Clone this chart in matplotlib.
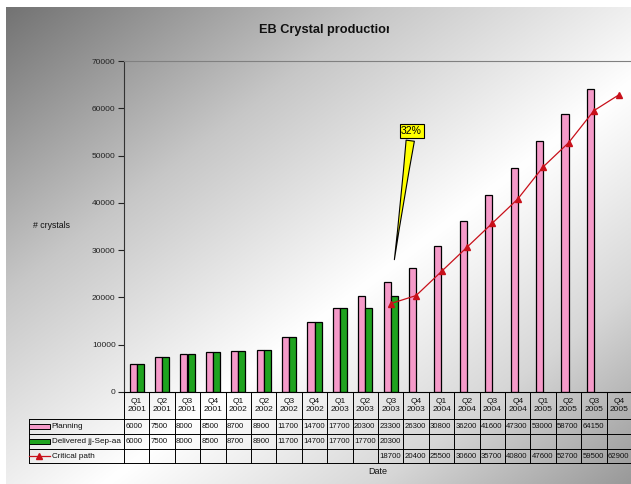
"""EB crystal production: planned vs delivered crystals per quarter, with critical path."""

import matplotlib.pyplot as plt
import numpy as np
from matplotlib.lines import Line2D
from matplotlib.patches import Rectangle
from matplotlib.transforms import Bbox, TransformedBbox, blended_transform_factory

plt.rcParams["font.family"] = ["Liberation Sans", "DejaVu Sans"]

# ---------------------------------------------------------------------------
# data
# ---------------------------------------------------------------------------
quarters = ["Q1", "Q2", "Q3", "Q4"] * 5
years = [y for y in ["2001", "2002", "2003", "2004", "2005"] for _ in range(4)]

planning = [6000, 7500, 8000, 8500, 8700, 8900, 11700, 14700, 17700, 20300,
            23300, 26300, 30800, 36200, 41600, 47300, 53000, 58700, 64150]
delivered = [6000, 7500, 8000, 8500, 8700, 8900, 11700, 14700, 17700, 17700, 20300]
critical_start = 10
critical_path = [18700, 20400, 25500, 30600, 35700, 40800, 47600, 52700, 59500, 62900]

series_names = ["Planning", "Delivered jj-Sep-aa", "Critical path"]

PINK = "#F59AC9"
GREEN = "#1FA31F"
RED = "#C8101A"

W, H = 631, 484
fig = plt.figure(figsize=(W / 100, H / 100), dpi=100)

# diagonal grey-white-grey background
bg = fig.add_axes([6 / W, 0, 1 - 6 / W, 1 - 7 / H])
gx, gy = np.meshgrid(np.linspace(0, 1, 400), np.linspace(0, 1, 300))
t = (gx + gy) / 2
shade = np.interp(t, [0, 0.3, 0.58, 0.8, 1.0], [0.45, 0.78, 1.0, 0.84, 0.6])
bg.imshow(np.dstack([shade] * 3), aspect="auto", extent=(0, 1, 1, 0))
bg.set_axis_off()

ax = fig.add_axes([124 / W, 1 - 392 / H, 508 / W, 331 / H])
ax.patch.set_alpha(0)

n = len(quarters)
x = np.arange(n)
bw = 0.28
ax.bar(x[:len(planning)] - bw / 2, planning, bw, color=PINK, edgecolor="black", linewidth=0.9, zorder=2)
ax.bar(x[:len(delivered)] + bw / 2, delivered, bw, color=GREEN, edgecolor="black", linewidth=0.9, zorder=2)
cx = x[critical_start:critical_start + len(critical_path)]
ax.plot(cx, critical_path, color=RED, linewidth=0.9, marker="^", markersize=4, zorder=3)

ax.set_xlim(-0.5, n - 0.5)
ax.set_ylim(0, 70000)
ax.set_yticks(range(0, 70001, 10000))
ax.set_xticks([])
ax.tick_params(axis="y", direction="out", length=4, width=0.8, labelsize=6, pad=2, colors="#222222")
ax.spines["right"].set_visible(False)
ax.spines["top"].set_color("#808080")
ax.spines["left"].set_color("#333333")
ax.spines["bottom"].set_color("black")
ax.spines["bottom"].set_linewidth(0.8)

# callout
ax.annotate("32%", xy=(10.13, 27400), xytext=(10.82, 55200), fontsize=7.5,
            ha="center", va="center",
            bbox=dict(boxstyle="square,pad=0.15", fc="#FFFF00", ec="black", lw=0.8),
            arrowprops=dict(arrowstyle="wedge,tail_width=0.8,shrink_factor=0.4",
                            fc="#FFFF00", ec="black", lw=0.8))

# data table under the chart
tr = blended_transform_factory(ax.transData, ax.transAxes)
px = 1 / 331  # one pixel in axes-fraction units
row_edges = [0, -27 * px, -42 * px, -57 * px, -71 * px]
label_left = -0.5 - 95 / 25.4
lkw = dict(color="black", linewidth=0.7, transform=tr, clip_on=False)

for xe in np.arange(n + 1) - 0.5:
    ax.add_line(Line2D([xe, xe], [row_edges[0], row_edges[-1]], **lkw))
ax.add_line(Line2D([label_left, label_left], [row_edges[1], row_edges[-1]], **lkw))
for ye in row_edges[1:]:
    ax.add_line(Line2D([label_left, n - 0.5], [ye, ye], **lkw))

tkw = dict(transform=tr, clip_on=False, color="#111111")
for i, (q, yr) in enumerate(zip(quarters, years)):
    ax.text(i, (row_edges[0] + row_edges[1]) / 2, f"{q}\n{yr}", ha="center", va="center",
            linespacing=1.05, fontsize=6, **tkw)

rows = [(planning, 0), (delivered, 0), (critical_path, critical_start)]
for r, (values, start) in enumerate(rows):
    ymid = (row_edges[r + 1] + row_edges[r + 2]) / 2
    for j, v in enumerate(values):
        ax.text(start + j - 0.45, ymid, str(v), ha="left", va="center", fontsize=5.6, **tkw)
    ax.text(label_left + 0.9, ymid, series_names[r], ha="left", va="center", fontsize=5.9, **tkw)

key_w = 21 / 25.4
for r, color in enumerate([PINK, GREEN]):
    ymid = (row_edges[r + 1] + row_edges[r + 2]) / 2
    ax.add_patch(Rectangle((label_left, ymid - 2.5 * px), key_w, 5 * px, facecolor=color,
                           edgecolor="black", linewidth=0.7, transform=tr, clip_on=False))
ymid = (row_edges[3] + row_edges[4]) / 2
ax.add_line(Line2D([label_left, label_left + key_w], [ymid, ymid], color=RED, linewidth=0.9,
                   transform=tr, clip_on=False))
ax.add_line(Line2D([label_left + key_w / 2], [ymid], color=RED, marker="^", markersize=4,
                   linestyle="none", transform=tr, clip_on=False))

ax.text(0.5, -79 * px, "Date", transform=ax.transAxes, ha="center", va="center",
        fontsize=6.5, color="#111111")

fig.text(33 / W, 1 - 225 / H, "# crystals", ha="left", va="center", fontsize=6.3, color="#111111")

# title is cut short at the right, as in the chart frame
title = fig.text(259 / W, 1 - 30 / H, "EB Crystal production", ha="left", va="center",
                 fontsize=9.2, fontweight="bold", color="#111111")
title.set_clip_box(TransformedBbox(Bbox.from_extents(0, 0, 389 / W, 1), fig.transFigure))
title.set_clip_on(True)

fig.savefig("out.png", dpi=100)
